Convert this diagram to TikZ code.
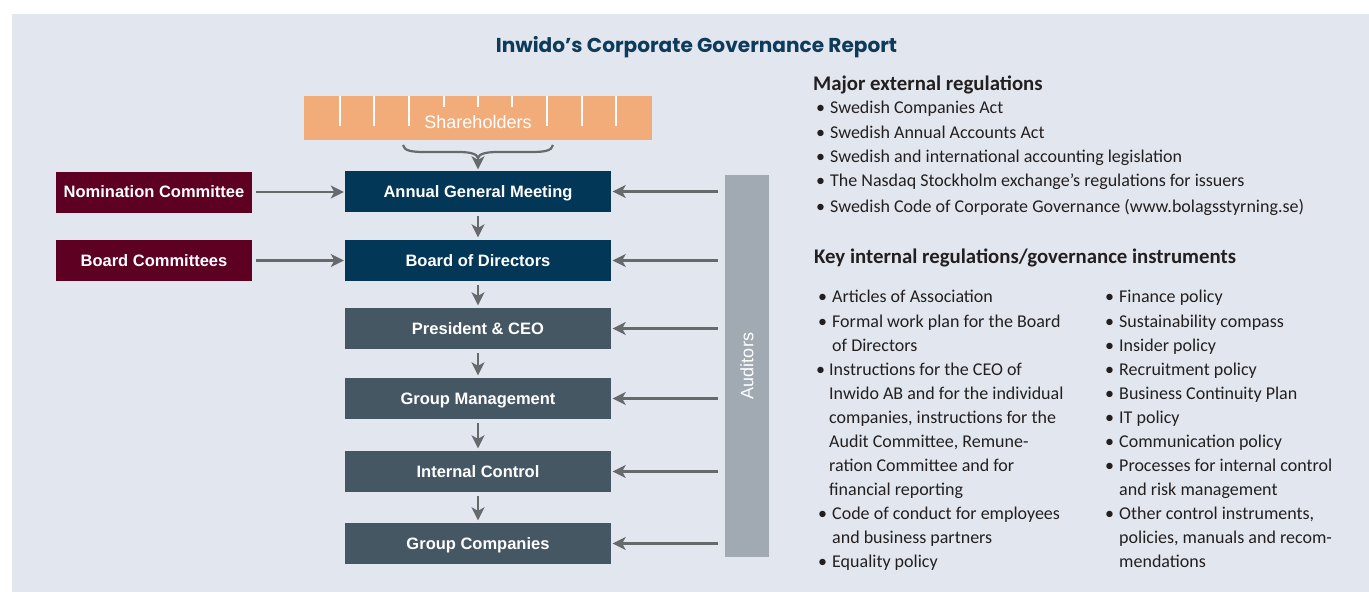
\documentclass[tikz,border=0pt]{standalone}
\usepackage{fontspec}
\setmainfont{Liberation Sans}
\newfontfamily\carl{Carlito}
\newfontfamily\popp{Poppins}
\usetikzlibrary{arrows.meta}
\definecolor{bgc}{HTML}{E2E7EF}
\definecolor{orng}{HTML}{F2AC79}
\definecolor{navy}{HTML}{023758}
\definecolor{slate}{HTML}{465764}
\definecolor{maroon}{HTML}{5E0021}
\definecolor{audc}{HTML}{A1AAB3}
\definecolor{arrc}{HTML}{676A6D}
\definecolor{titc}{HTML}{0F3B5B}
\definecolor{txtc}{HTML}{231F20}
\tikzset{
  box/.style={minimum width=266pt, minimum height=41pt, inner sep=0pt, text=white,
    font=\fontsize{16.5}{18}\selectfont\bfseries, text height=11.8pt, text depth=0pt},
  navybox/.style={box, fill=navy},
  slatebox/.style={box, fill=slate},
  redbox/.style={box, fill=maroon, minimum width=196pt},
  arr/.style={draw=arrc, line width=2.2pt, -{Stealth[length=13pt,width=13pt,inset=3.5pt]}},
  hdr/.style={font=\carl\fontsize{20.8}{24}\selectfont\bfseries, text=txtc, inner sep=0pt, anchor=base west},
  itm/.style={font=\carl\fontsize{18}{24}\selectfont, text=txtc, inner sep=0pt, anchor=base west},
}
\newcommand\myline[3]{\node[itm] at (#1,#2) {#3};}
\newcommand\mybul[2]{\node[itm] at (#1,#2) {•};}
\begin{document}
\begin{tikzpicture}[x=1pt,y=-1pt]
\useasboundingbox (0,0) rectangle (1369,592);
\fill[bgc] (12,14) rectangle (1369,592);

% title
\node[font=\popp\fontsize{20.1}{24}\selectfont\bfseries, text=titc, inner sep=0pt, anchor=base] (title) at (696.5,52) {Inwido’s Corporate Governance Report};

% shareholders
\node[fill=orng, minimum width=348pt, minimum height=44pt, inner sep=0pt, text=white,
  font=\fontsize{18}{20}\selectfont, text height=12.9pt, text depth=0pt] (sh) at (478,118) {\raisebox{-4.5pt}{Shareholders}};
\foreach \x in {340,374,409,547,582,616} \draw[white, line width=1.8pt] (\x,96) -- (\x,126);
\foreach \x in {444,478,512} \draw[white, line width=1.8pt] (\x,96) -- (\x,107);

% boxes
\node[navybox] (agm) at (478,191.5) {Annual General Meeting};
\node[navybox] (bod) at (478,260.5) {Board of Directors};
\node[slatebox] (ceo) at (478,328.5) {President \& CEO};
\node[slatebox] (gm) at (478,398.5) {Group Management};
\node[slatebox] (ic) at (478,471.5) {Internal Control};
\node[slatebox] (gc) at (478,543.5) {Group Companies};
\node[redbox] (nc) at (154,192) {Nomination Committee};
\node[redbox] (bc) at (154,260.5) {Board Committees};
\node[fill=audc, minimum width=44pt, minimum height=382pt, inner sep=0pt] (aud) at (747,366) {};
\node[rotate=90, text=white, font=\fontsize{18}{20}\selectfont, inner sep=0pt] (audt) at (aud.center) {Auditors};

% brace
\draw[arrc, line width=2.2pt] (403,145) .. controls (404,151) and (412,152) .. (425,152) -- (458,152)
   .. controls (471,152) and (477,154) .. (478,158)
   .. controls (479,154) and (485,152) .. (498,152) -- (531,152)
   .. controls (544,152) and (552,151) .. (553,145);
\coordinate (br) at (478,156);
\draw[arr, shorten >=1.5pt] (br) -- (agm.north);

% vertical arrows
\foreach \a/\b in {agm/bod, bod/ceo, ceo/gm, gm/ic, ic/gc}
  \draw[arr, shorten <=4pt, shorten >=2.5pt] (\a.south) -- (\b.north);

% left arrows
\draw[arr, shorten <=4pt, shorten >=1pt] (nc.east) -- (nc.east -| agm.west);
\draw[arr, shorten <=4pt, shorten >=1pt] (bc.east) -- (bc.east -| bod.west);

% auditors arrows
\foreach \n in {agm, bod, ceo, gm, ic, gc}
  \draw[arr, shorten <=7pt, shorten >=1.5pt] (aud.west |- \n.east) -- (\n.east);

% right text
\node[hdr] (h1) at (813,90) {Major external regulations};
\foreach \y/\t in {113/Swedish Companies Act, 138/Swedish Annual Accounts Act,
   162/Swedish and international accounting legislation,
   186/The Nasdaq Stockholm exchange’s regulations for issuers,
   212/Swedish Code of Corporate Governance (www.bolagsstyrning.se)} {
  \mybul{816}{\y}
  \myline{830}{\y}{\t}
}
\node[hdr] (h2) at (814,263) {Key internal regulations/governance instruments};

% left column
\mybul{818}{302} \myline{832}{302}{Articles of Association}
\mybul{818}{327} \myline{832}{327}{Formal work plan for the Board}
\myline{832}{351}{of Directors}
\mybul{816}{375} \myline{829}{375}{Instructions for the CEO of}
\myline{829}{399}{Inwido AB and for the individual}
\myline{829}{423}{companies, instructions for the}
\myline{829}{447}{Audit Committee, Remune-}
\myline{829}{471}{ration Committee and for}
\myline{829}{495}{financial reporting}
\mybul{818}{519} \myline{832}{519}{Code of conduct for employees}
\myline{832}{543}{and business partners}
\mybul{818}{567} \myline{832}{567}{Equality policy}

% right column
\mybul{1105}{302} \myline{1119}{302}{Finance policy}
\mybul{1105}{327} \myline{1119}{327}{Sustainability compass}
\mybul{1105}{351} \myline{1119}{351}{Insider policy}
\mybul{1105}{375} \myline{1119}{375}{Recruitment policy}
\mybul{1105}{399} \myline{1119}{399}{Business Continuity Plan}
\mybul{1105}{423} \myline{1119}{423}{IT policy}
\mybul{1105}{447} \myline{1119}{447}{Communication policy}
\mybul{1105}{471} \myline{1119}{471}{Processes for internal control}
\myline{1119}{495}{and risk management}
\mybul{1105}{519} \myline{1119}{519}{Other control instruments,}
\myline{1119}{543}{policies, manuals and recom-}
\myline{1119}{567}{mendations}
\end{tikzpicture}
\end{document}
